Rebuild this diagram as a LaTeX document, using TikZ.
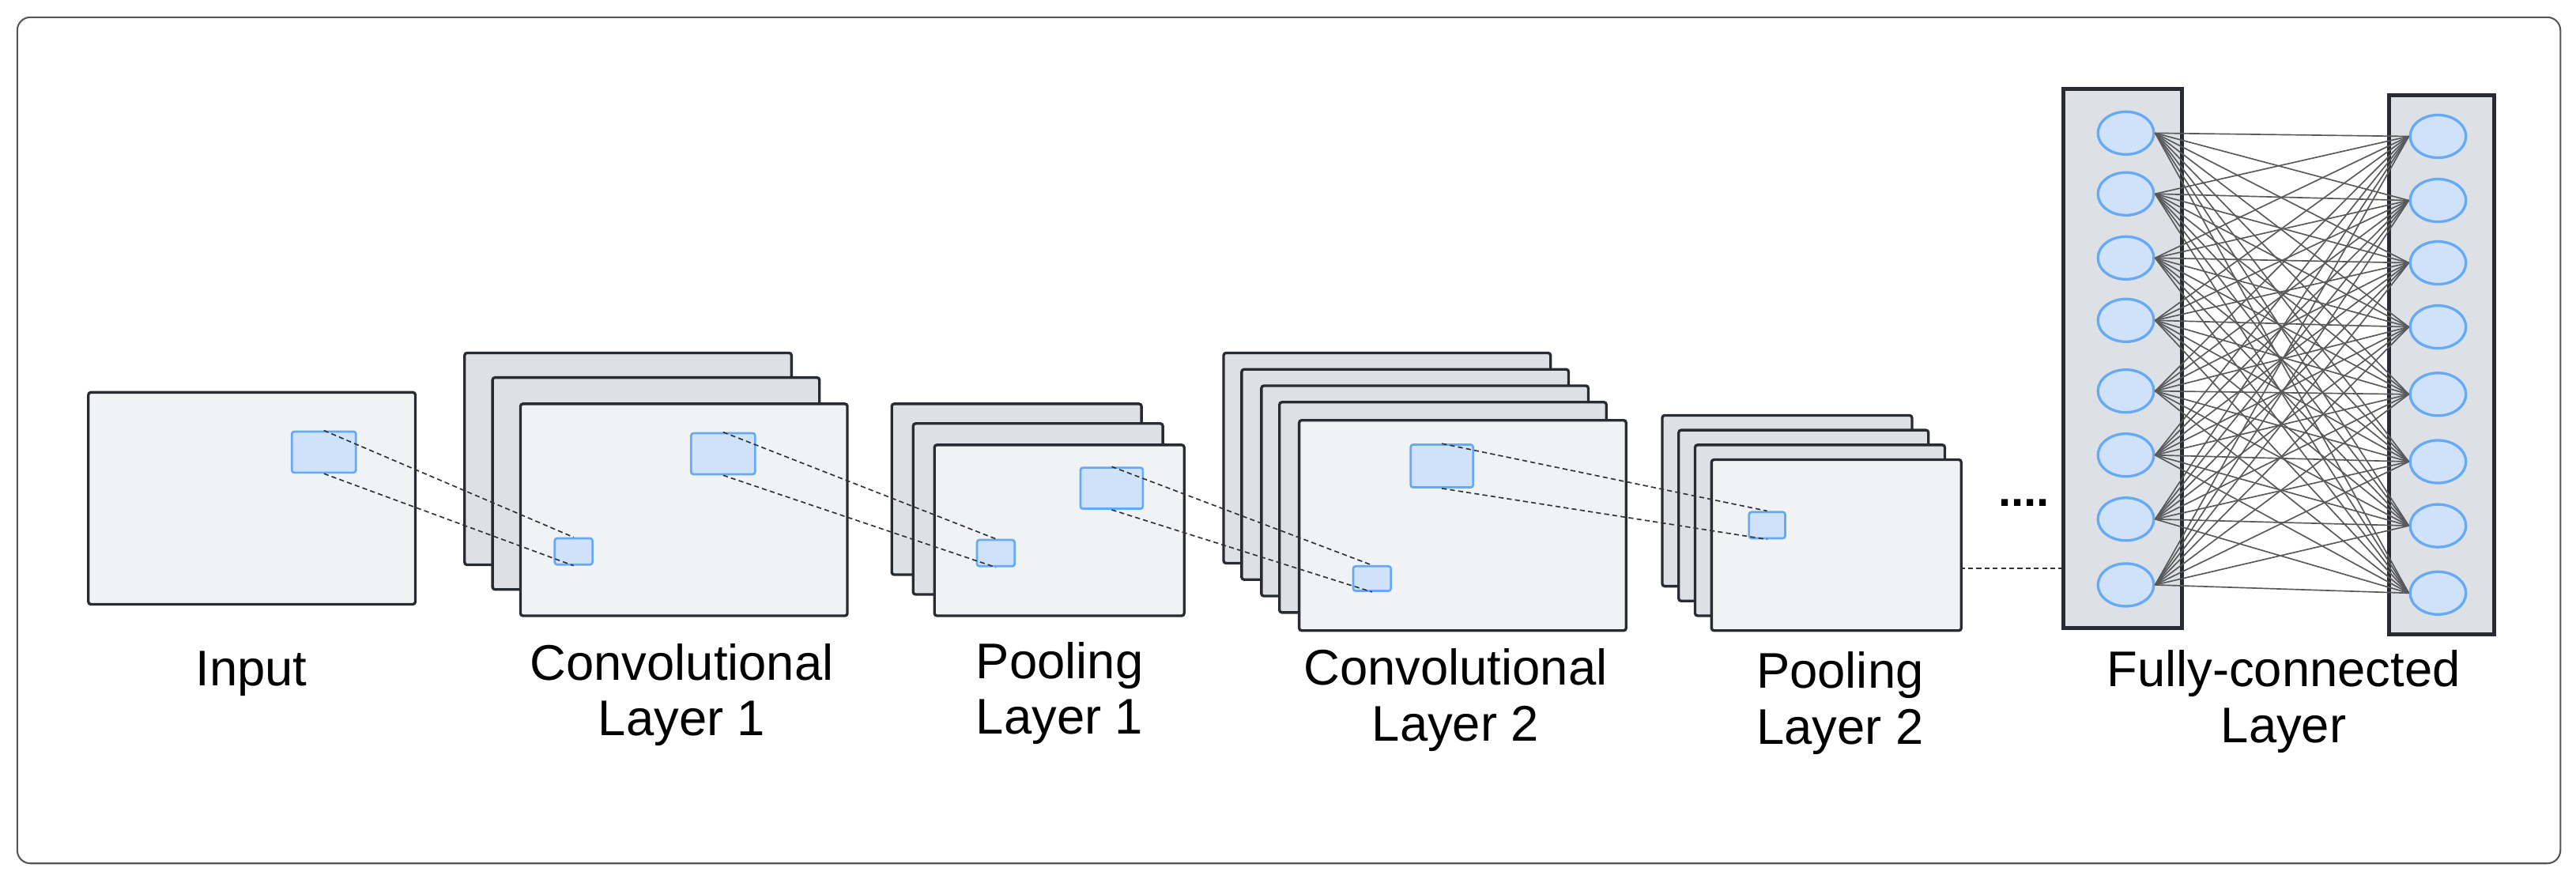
\documentclass[tikz,border=0pt]{standalone}
\usepackage{fontspec}
\setmainfont{Liberation Sans}
\usetikzlibrary{shapes.geometric}
\definecolor{edge}{RGB}{40,44,50}
\begin{document}
\begin{tikzpicture}[x=1pt,y=-1pt,
  fm/.style={draw=edge,line width=1.6pt,rounded corners=1.5pt,anchor=north west,inner sep=0pt},
  front/.style={fm,fill={rgb,255:red,241;green,242;blue,244}},
  back/.style={fm,fill={rgb,255:red,221;green,224;blue,228}},
  patch/.style={draw={rgb,255:red,102;green,170;blue,245},fill={rgb,255:red,207;green,226;blue,250},line width=1.3pt,rounded corners=1.5pt,anchor=north west,inner sep=0pt},
  dl/.style={densely dashed,line width=0.8pt,black!80},
  neuron/.style={ellipse,draw={rgb,255:red,102;green,170;blue,245},fill={rgb,255:red,207;green,226;blue,250},line width=1.6pt,minimum width=34pt,minimum height=26pt,inner sep=0pt},
  lab/.style={align=center,font=\fontsize{30.5}{34}\selectfont}]
\useasboundingbox (0,0) rectangle (1568,535);
\node[draw=edge!80,line width=1pt,rounded corners=8pt,minimum width=1548pt,minimum height=515pt,anchor=north west,inner sep=0pt] (frame) at (10,10) {};
% Input
\node[front,minimum width=199pt,minimum height=129pt] (in) at (53,238) {};
\node[patch,minimum width=39pt,minimum height=25pt] (p0) at (177,262) {};
% Conv1
\node[back,minimum width=199pt,minimum height=129pt] (c1b1) at (282,214) {};
\node[back,minimum width=199pt,minimum height=129pt] (c1b2) at (299,229) {};
\node[front,minimum width=199pt,minimum height=129pt] (c1f) at (316,245) {};
\node[patch,minimum width=23pt,minimum height=16pt] (s1) at (337,327) {};
\node[patch,minimum width=39pt,minimum height=25pt] (p1) at (420,263) {};
% Pool1
\foreach \i/\x/\y in {1/542/245,2/555/257}{
  \node[back,minimum width=152pt,minimum height=104pt] (q1b\i) at (\x,\y) {};}
\node[front,minimum width=152pt,minimum height=104pt] (q1f) at (568,270) {};
\node[patch,minimum width=23pt,minimum height=16pt] (s2) at (594,328) {};
\node[patch,minimum width=38pt,minimum height=25pt] (p2) at (657,284) {};
% Conv2
\foreach \i/\x/\y in {1/744/214,2/755/224,3/767/234,4/778/244}{
  \node[back,minimum width=199pt,minimum height=128pt] (c2b\i) at (\x,\y) {};}
\node[front,minimum width=199pt,minimum height=128pt] (c2f) at (790,255) {};
\node[patch,minimum width=23pt,minimum height=15pt] (s3) at (823,344) {};
\node[patch,minimum width=38pt,minimum height=26pt] (p3) at (858,270) {};
% Pool2
\foreach \i/\x/\y in {1/1011/252,2/1021/261,3/1031/270}{
  \node[back,minimum width=152pt,minimum height=104pt] (q2b\i) at (\x,\y) {};}
\node[front,minimum width=152pt,minimum height=104pt] (q2f) at (1041,279) {};
\node[patch,minimum width=22pt,minimum height=16pt] (s4) at (1064,311) {};
% dashed connectors
\foreach \a/\b in {p0/s1,p1/s2,p2/s3,p3/s4}{
  \draw[dl] (\a.north) -- (\b.north);
  \draw[dl] (\a.south) -- (\b.south);}
% dots
\node[font=\fontsize{28}{30}\selectfont\bfseries] (dots) at (1232,306) {....};
% FC
\node[back,line width=2.4pt,rounded corners=0pt,minimum width=72pt,minimum height=328pt] (fl) at (1255,53) {};
\node[back,line width=2.4pt,rounded corners=0pt,minimum width=64pt,minimum height=328pt] (fr) at (1453,57) {};
\coordinate (q2e) at (1193,346);
\draw[dl] (q2e) -- (fl.west |- q2e);
\foreach \i/\y in {1/81,2/118,3/157,4/195,5/238,6/277,7/316,8/356}{
  \node[neuron] (l\i) at (1294,\y) {};}
\foreach \i/\y in {1/83,2/122,3/160,4/199,5/240,6/281,7/320,8/361}{
  \node[neuron] (r\i) at (1484,\y) {};}
\foreach \i in {1,...,8}{\foreach \j in {1,...,8}{
  \draw[black!65,line width=0.8pt] (l\i.east) -- (r\j.west);}}
% labels
\node[lab] (t0) at (153,410) {Input};
\node[lab] (t1) at (415,423) {Convolutional\\Layer 1};
\node[lab] (t2) at (645,422) {Pooling\\Layer 1};
\node[lab] (t3) at (886,426) {Convolutional\\Layer 2};
\node[lab] (t4) at (1120,428) {Pooling\\Layer 2};
\node[lab] (t5) at (1390,427) {Fully-connected\\Layer};
\end{tikzpicture}
\end{document}
